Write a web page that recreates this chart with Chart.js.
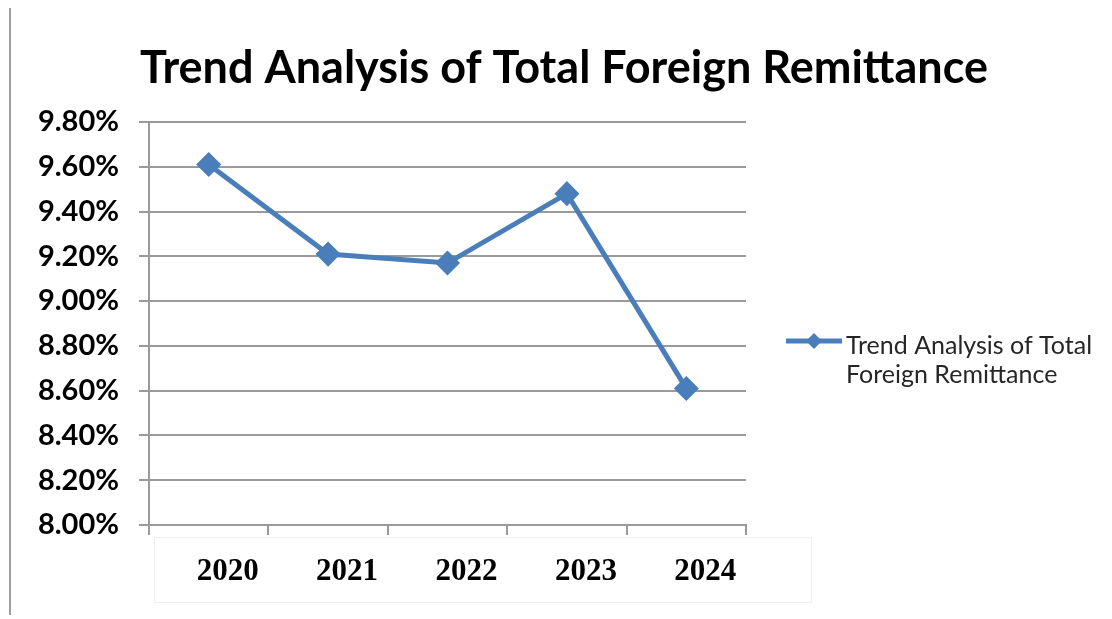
<!DOCTYPE html>
<html>
<head>
<meta charset="utf-8">
<script src="https://cdn.jsdelivr.net/npm/chart.js@4.4.0/dist/chart.umd.min.js"></script>
<style>
  html, body { margin: 0; padding: 0; background: #fff; }
  #wrap { width: 1112px; height: 619px; }
</style>
</head>
<body>
<div id="wrap"><canvas id="chart" width="1112" height="619"></canvas></div>
<script>
// data
const years = ["2020", "2021", "2022", "2023", "2024"];
const remittance = [9.61, 9.21, 9.17, 9.48, 8.61];
const legendLines = ["Trend Analysis of Total", "Foreign Remittance"];
const chartTitle = "Trend Analysis of Total Foreign Remittance";
const yMin = 8.0, yMax = 9.8, yStep = 0.2;

const blue = "#4a7ebb";
const gridGrey = "#9a9a9a";

// frame line on the left, title, faint box under the years, and the legend
const decor = {
    id: "decor",
    beforeDraw(chart) {
        const ctx = chart.ctx;
        const area = chart.chartArea;
        ctx.save();
        ctx.fillStyle = "#fff";
        ctx.fillRect(0, 0, chart.width, chart.height);
        ctx.strokeStyle = "#a0a0a0";
        ctx.lineWidth = 2;
        ctx.beginPath();
        ctx.moveTo(10, 8);
        ctx.lineTo(10, 615);
        ctx.stroke();
        ctx.strokeStyle = "#eeeeee";
        ctx.lineWidth = 1;
        ctx.strokeRect(area.left + 5.5, area.bottom + 12.5, 657, 65);
        ctx.fillStyle = "#000";
        ctx.font = "bold 45px Lato";
        ctx.textAlign = "center";
        ctx.textBaseline = "alphabetic";
        ctx.fillText(chartTitle, 564, 83);
        ctx.restore();
    },
    afterDraw(chart) {
        const ctx = chart.ctx;
        const ly = 341;
        ctx.save();
        ctx.strokeStyle = blue;
        ctx.lineWidth = 5;
        ctx.beginPath();
        ctx.moveTo(786, ly);
        ctx.lineTo(842, ly);
        ctx.stroke();
        ctx.fillStyle = blue;
        ctx.beginPath();
        ctx.moveTo(814, ly - 8);
        ctx.lineTo(822, ly);
        ctx.lineTo(814, ly + 8);
        ctx.lineTo(806, ly);
        ctx.closePath();
        ctx.fill();
        ctx.fillStyle = "#262626";
        ctx.font = "25px Lato";
        ctx.textBaseline = "alphabetic";
        ctx.fillText(legendLines[0], 846, 354);
        ctx.fillText(legendLines[1], 846, 383);
        ctx.restore();
    }
};

const ctx = document.getElementById("chart").getContext("2d");
new Chart(ctx, {
    type: "line",
    data: {
        labels: years,
        datasets: [{
            label: legendLines.join(" "),
            data: remittance,
            borderColor: blue,
            backgroundColor: blue,
            borderWidth: 5,
            tension: 0,
            pointStyle: "rectRot",
            pointRadius: 9,
            pointHoverRadius: 9,
        }],
    },
    options: {
        responsive: false,
        animation: false,
        devicePixelRatio: 1,
        layout: { padding: { left: 0, right: 366, top: 122, bottom: 0 } },
        plugins: {
            legend: { display: false },
            tooltip: { enabled: false },
            title: { display: false },
        },
        scales: {
            x: {
                offset: true,
                afterFit: s => { s.height = 94; },
                grid: {
                    offset: true,
                    drawOnChartArea: false,
                    tickLength: 10,
                    color: gridGrey,
                    lineWidth: 2,
                },
                border: { color: gridGrey, width: 2 },
                ticks: {
                    color: "#000",
                    padding: 18,
                    labelOffset: 19,
                    font: { family: "Liberation Serif", size: 31, weight: "bold" },
                },
            },
            y: {
                min: yMin,
                max: yMax,
                afterFit: s => { s.width = 149; },
                grid: { color: gridGrey, lineWidth: 2, tickLength: 10 },
                border: { color: gridGrey, width: 2 },
                ticks: {
                    stepSize: yStep,
                    color: "#000",
                    padding: 20,
                    font: { family: "Lato", size: 29, weight: "bold" },
                    callback: v => v.toFixed(2) + "%",
                },
            },
        },
    },
    plugins: [decor],
});
</script>
</body>
</html>
